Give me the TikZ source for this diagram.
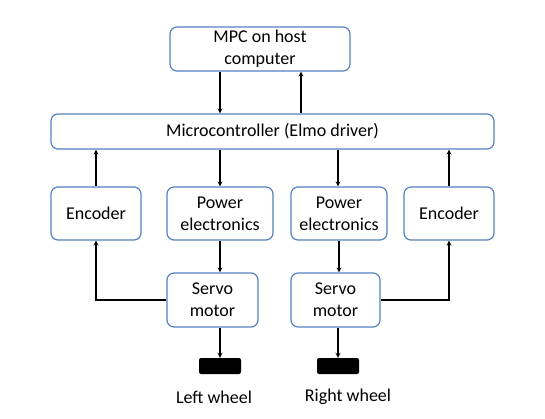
\documentclass[tikz,border=0pt]{standalone}
\usepackage{fontspec}
\setmainfont{Carlito}
\usepackage{tikz}
\usetikzlibrary{positioning}
\definecolor{boxBlue}{RGB}{84,130,190}

\begin{document}
\begin{tikzpicture}[x=1pt, y=-1pt, >=stealth,
        blockNode/.style = {rectangle, draw = boxBlue, line width = 1.2pt, rounded corners = 7pt, align = center,
                            font = \fontsize{18}{22}\selectfont, inner sep = 0pt},
        wheelNode/.style = {rectangle, fill = black, rounded corners = 2pt, minimum width = 42pt, minimum height = 16pt},
        flow/.style = {->, line width = 1.2pt}]
        \useasboundingbox (0, 0) rectangle (545, 419);

        \node[blockNode, minimum width = 180pt, minimum height = 44pt] (mpcNode) at (260, 49) {MPC on host\\computer};
        \node[blockNode, minimum width = 443pt, minimum height = 35pt] (microNode) at (272.5, 131.5) {Microcontroller (Elmo driver)};
        \node[blockNode, minimum width = 90pt, minimum height = 53pt] (encLNode) at (96, 213.5) {Encoder};
        \node[blockNode, minimum width = 106pt, minimum height = 53pt] (powLNode) at (220, 213.5) {Power\\electronics};
        \node[blockNode, minimum width = 96pt, minimum height = 53pt] (powRNode) at (339, 213.5) {Power\\electronics};
        \node[blockNode, minimum width = 90pt, minimum height = 53pt] (encRNode) at (449, 213.5) {Encoder};
        \node[blockNode, minimum width = 91pt, minimum height = 54pt] (servoLNode) at (212.5, 300) {Servo\\motor};
        \node[blockNode, minimum width = 89pt, minimum height = 54pt] (servoRNode) at (335.5, 300) {Servo\\motor};
        \node[wheelNode] (wheelLNode) at (220, 366) {};
        \node[wheelNode] (wheelRNode) at (338, 366) {};
        \node[font = \fontsize{18}{22}\selectfont] (leftLabel) at (214, 397) {Left wheel};
        \node[font = \fontsize{18}{22}\selectfont] (rightLabel) at (348, 397) {Right wheel};

        \draw (mpcNode.south -| powLNode) edge[flow] (microNode.north -| powLNode);
        \draw ([xshift = 41pt]mpcNode.south |- microNode.north) edge[flow] ([xshift = 41pt]mpcNode.south);
        \draw (encLNode.north) edge[flow] (microNode.south -| encLNode);
        \draw (microNode.south -| powLNode) edge[flow] (powLNode.north);
        \draw (microNode.south -| wheelRNode) edge[flow] (wheelRNode |- powRNode.north);
        \draw (encRNode.north) edge[flow] (microNode.south -| encRNode);
        \draw (powLNode.south) edge[flow] (powLNode.south |- servoLNode.north);
        \draw (powRNode.south) edge[flow] (powRNode.south |- servoRNode.north);
        \draw[flow] (servoLNode.west) -- (servoLNode.west -| encLNode) -- (encLNode.south);
        \draw[flow] (servoRNode.east) -- (servoRNode.east -| encRNode) -- (encRNode.south);
        \draw (servoLNode.south -| wheelLNode) edge[flow] (wheelLNode.north);
        \draw (servoRNode.south -| wheelRNode) edge[flow] (wheelRNode.north);
      \end{tikzpicture}
\end{document}
